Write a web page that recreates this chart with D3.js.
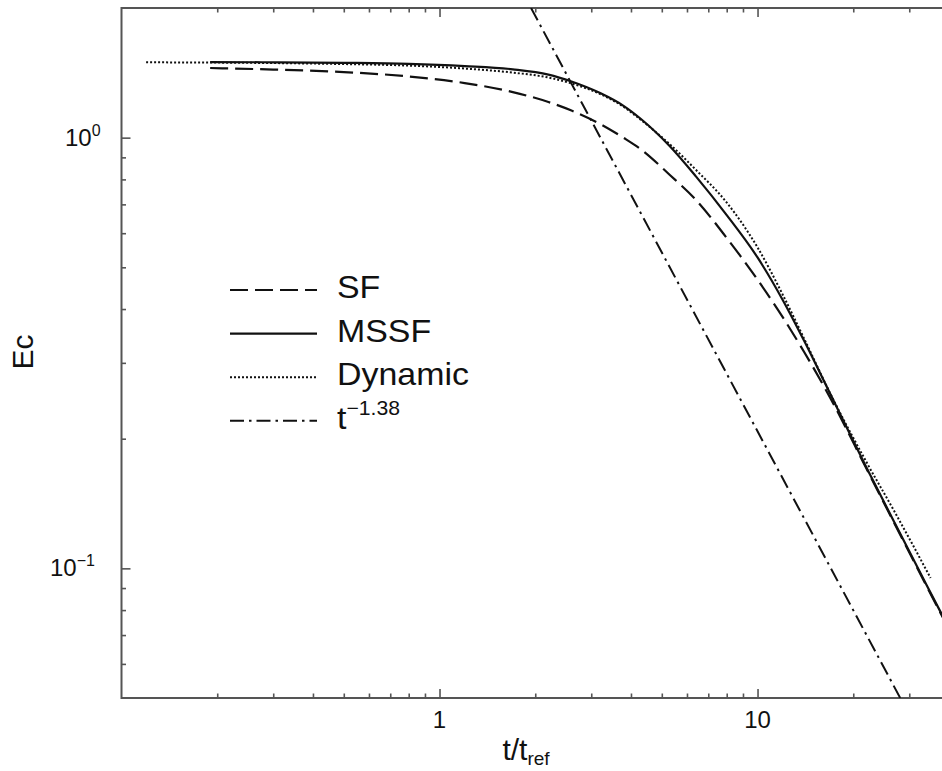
<!DOCTYPE html>
<html>
<head>
<meta charset="utf-8">
<script src="https://cdn.jsdelivr.net/npm/d3@7"></script>
<style>
  html, body { margin: 0; padding: 0; background: #fff; }
  svg { display: block; font-family: "Liberation Sans", Arial, Helvetica, sans-serif; }
</style>
</head>
<body>
<svg id="chart" width="942" height="771"></svg>
<script>
// ---------- data ----------
const tGrid = [0.19, 0.3, 0.5, 0.8, 1.2, 1.7, 2.2, 2.6, 3.2, 3.8, 4.3, 5.3, 6.4, 8, 10, 12, 14, 17, 22, 27, 34, 40];
const sfE   = [1.451, 1.439, 1.420, 1.387, 1.339, 1.276, 1.210, 1.156, 1.076, 0.998, 0.939, 0.819, 0.717, 0.585, 0.468, 0.383, 0.3184, 0.2474, 0.1705, 0.1268, 0.0910, 0.0722];
const mssfE = [1.498, 1.496, 1.492, 1.484, 1.466, 1.441, 1.401, 1.350, 1.269, 1.184, 1.105, 0.955, 0.813, 0.661, 0.527, 0.420, 0.338, 0.2525, 0.1715, 0.1275, 0.0915, 0.0726];
const dynT  = [0.1195, 0.19, 0.3, 0.5, 0.8, 1.2, 1.7, 2.2, 2.6, 3.2, 3.8, 4.3, 5.3, 6.4, 8, 10, 12, 14, 17, 22, 27, 35];
const dynE  = [1.496, 1.494, 1.490, 1.482, 1.470, 1.447, 1.416, 1.379, 1.336, 1.263, 1.178, 1.099, 0.965, 0.842, 0.707, 0.556, 0.432, 0.3419, 0.2531, 0.1765, 0.1352, 0.0950];
const powT  = [1.94, 28.1];
const powE  = [2.0, 0.05];

const xMajorTicks = [1, 10];
const xMajorLabels = ["1", "10"];
const xMinorTicks = [0.2, 0.3, 0.4, 0.5, 0.6, 0.7, 0.8, 0.9, 2, 3, 4, 5, 6, 7, 8, 9, 20, 30];
const yMajorTicks = [1, 0.1];
const yMajorExp = ["0", "\u22121"];
const yMinorTicks = [0.06, 0.07, 0.08, 0.09, 0.2, 0.3, 0.4, 0.5, 0.6, 0.7, 0.8, 0.9];

const legendNames = ["SF", "MSSF", "Dynamic", "t"];

// ---------- layout ----------
const svg = d3.select("#chart");
const L = 121.5, T = 8, R = 949, B = 698;
const x = d3.scaleLog().domain([0.1, 40]).range([L, R]);
const y = d3.scaleLog().domain([0.05, 2]).range([B, T]);

const axisColor = "#555";
const ink = "#111";

svg.append("defs").append("clipPath").attr("id", "plotclip")
  .append("rect").attr("x", L).attr("y", T).attr("width", R - L).attr("height", B - T);

// axes (ticks pointing inward)
function styleAxis(g) {
  g.select(".domain").remove();
  g.selectAll(".tick line").attr("stroke", axisColor).attr("stroke-width", 1.6);
  g.selectAll(".tick text").remove();
}
svg.append("g").attr("transform", `translate(0,${B})`)
  .call(d3.axisBottom(x).tickValues(xMajorTicks).tickSize(-9)).call(styleAxis);
svg.append("g").attr("transform", `translate(0,${B})`)
  .call(d3.axisBottom(x).tickValues(xMinorTicks).tickSize(-4.5)).call(styleAxis);
svg.append("g").attr("transform", `translate(0,${T})`)
  .call(d3.axisTop(x).tickValues(xMajorTicks).tickSize(-9)).call(styleAxis);
svg.append("g").attr("transform", `translate(0,${T})`)
  .call(d3.axisTop(x).tickValues(xMinorTicks).tickSize(-4.5)).call(styleAxis);
svg.append("g").attr("transform", `translate(${L},0)`)
  .call(d3.axisLeft(y).tickValues(yMajorTicks).tickSize(-9)).call(styleAxis);
svg.append("g").attr("transform", `translate(${L},0)`)
  .call(d3.axisLeft(y).tickValues(yMinorTicks).tickSize(-4.5)).call(styleAxis);

// frame
svg.append("rect").attr("x", L).attr("y", T).attr("width", R - L).attr("height", B - T)
  .attr("fill", "none").attr("stroke", axisColor).attr("stroke-width", 2);

// x tick labels
svg.append("g").selectAll("text").data(xMajorTicks).join("text")
  .attr("x", d => x(d)).attr("y", B + 30)
  .attr("text-anchor", "middle").attr("font-size", 24).attr("fill", ink)
  .text((d, i) => xMajorLabels[i]);

// y tick labels 10^n
const yl = svg.append("g").selectAll("text").data(yMajorTicks).join("text")
  .attr("x", (d, i) => i === 0 ? 65 : 50).attr("y", d => y(d) + 8)
  .attr("font-size", 24).attr("fill", ink);
yl.append("tspan").text("10");
yl.append("tspan").attr("dy", -10).attr("font-size", 16).text((d, i) => yMajorExp[i]);

// axis titles
const xt = svg.append("text").attr("x", 526).attr("y", 760)
  .attr("text-anchor", "middle").attr("font-size", 30).attr("fill", ink);
xt.append("tspan").text("t/t");
xt.append("tspan").attr("dy", 5).attr("font-size", 19).text("ref");

svg.append("text").attr("transform", "translate(33,352) rotate(-90)")
  .attr("text-anchor", "middle").attr("font-size", 30).attr("fill", ink).text("Ec");

// ---------- curves ----------
const line = d3.line().x(d => x(d[0])).y(d => y(d[1])).curve(d3.curveMonotoneX);
const plot = svg.append("g").attr("clip-path", "url(#plotclip)");

const styles = {
  SF:      { dash: "18,7",        width: 2.2 },
  MSSF:    { dash: null,          width: 2.2 },
  Dynamic: { dash: "2,2",         width: 2.0 },
  t:       { dash: "14,5,2.5,5",  width: 2.0 }
};

function drawSeries(ts, es, st) {
  plot.append("path")
    .datum(ts.map((t, i) => [t, es[i]]))
    .attr("d", line)
    .attr("fill", "none")
    .attr("stroke", ink)
    .attr("stroke-width", st.width)
    .attr("stroke-dasharray", st.dash);
}
drawSeries(tGrid, sfE, styles.SF);
drawSeries(tGrid, mssfE, styles.MSSF);
drawSeries(dynT, dynE, styles.Dynamic);
drawSeries(powT, powE, styles.t);

// ---------- legend ----------
const lg = svg.append("g");
const legY0 = 290, legDY = 43.6;
legendNames.forEach((name, i) => {
  const st = styles[name];
  const yy = legY0 + i * legDY;
  lg.append("line").attr("x1", 230).attr("x2", 317).attr("y1", yy).attr("y2", yy)
    .attr("stroke", ink).attr("stroke-width", st.width).attr("stroke-dasharray", st.dash);
  const tx = lg.append("text")
    .attr("transform", `translate(337,${yy + 8}) scale(1.06,1)`)
    .attr("font-size", 32).attr("fill", ink);
  tx.append("tspan").text(name);
  if (name === "t") {
    tx.append("tspan").attr("dy", -14).attr("font-size", 20).text("\u22121.38");
  }
});
</script>
</body>
</html>
